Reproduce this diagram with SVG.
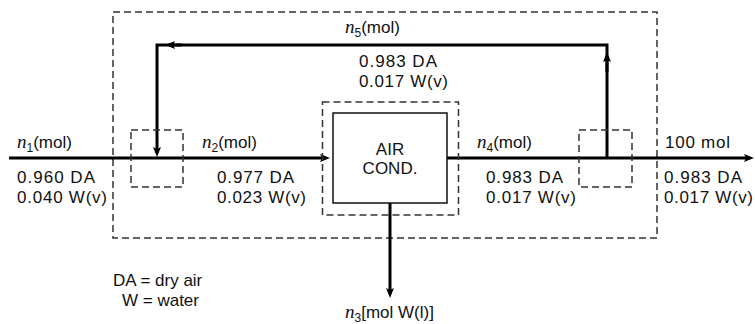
<svg xmlns="http://www.w3.org/2000/svg" width="755" height="324" viewBox="0 0 755 324">
  <defs>
    <style>
      .t { font-family: "Liberation Sans", Arial, sans-serif; font-size: 17px; fill: #111; }
      .it { font-family: "Liberation Serif", "Times New Roman", serif; font-style: italic; font-size: 19px; }
      .sub { font-size: 12px; }
      .dash { fill: none; stroke: #333; stroke-width: 1.5; stroke-dasharray: 7 4; }
      .unit { fill: #fff; stroke: #111; stroke-width: 1.5; }
      .flow { fill: none; stroke: #000; stroke-width: 3; stroke-linejoin: miter; }
      .arr { marker-end: url(#ah); }
    </style>
    <marker id="ah" markerUnits="userSpaceOnUse" viewBox="0 0 10 10" markerWidth="10" markerHeight="10" refX="6" refY="5" orient="auto">
      <path d="M0,1 L10,5 L0,9 L2,5 z" fill="#000"/>
    </marker>
  </defs>

  <g id="system-boundary">
    <rect class="dash" x="113" y="12" width="544" height="226"/>
  </g>

  <g id="connectors">
    <path class="flow arr" d="M9,158 H326"/>
    <path class="flow arr" d="M447,158 H750"/>
    <path class="flow arr" d="M607,158 V45 H157 V153"/>
    <path class="flow arr" d="M607,72 V56"/>
    <path class="flow arr" d="M182,45 H169"/>
    <path class="flow arr" d="M390,203 V294"/>
  </g>

  <g id="mixer">
    <rect class="dash" x="131" y="130" width="52" height="57"/>
  </g>

  <g id="splitter">
    <rect class="dash" x="579" y="130" width="53" height="57"/>
  </g>

  <g id="air-conditioner">
    <rect class="dash" x="322.5" y="102" width="136" height="113"/>
    <rect class="unit" x="333" y="113" width="114" height="90"/>
    <text class="t" x="390" y="155" text-anchor="middle">AIR</text>
    <text class="t" x="390" y="174" text-anchor="middle">COND.</text>
  </g>

  <g id="stream-1">
    <text class="t" x="17" y="148"><tspan class="it">n</tspan><tspan class="sub" dy="4">1</tspan><tspan dy="-4">(mol)</tspan></text>
    <text class="t" x="17" y="183" textLength="78">0.960 DA</text>
    <text class="t" x="17" y="203" textLength="90">0.040 W(v)</text>
  </g>

  <g id="stream-2">
    <text class="t" x="202" y="148"><tspan class="it">n</tspan><tspan class="sub" dy="4">2</tspan><tspan dy="-4">(mol)</tspan></text>
    <text class="t" x="217" y="183" textLength="77">0.977 DA</text>
    <text class="t" x="217" y="203" textLength="89">0.023 W(v)</text>
  </g>

  <g id="stream-5">
    <text class="t" x="345" y="33"><tspan class="it">n</tspan><tspan class="sub" dy="4">5</tspan><tspan dy="-4">(mol)</tspan></text>
    <text class="t" x="359" y="67" textLength="78">0.983 DA</text>
    <text class="t" x="359" y="87" textLength="89">0.017 W(v)</text>
  </g>

  <g id="stream-4">
    <text class="t" x="477" y="148"><tspan class="it">n</tspan><tspan class="sub" dy="4">4</tspan><tspan dy="-4">(mol)</tspan></text>
    <text class="t" x="486" y="183" textLength="77">0.983 DA</text>
    <text class="t" x="486" y="203" textLength="90">0.017 W(v)</text>
  </g>

  <g id="stream-product">
    <text class="t" x="665" y="148" textLength="65">100 mol</text>
    <text class="t" x="664" y="183" textLength="78">0.983 DA</text>
    <text class="t" x="664" y="203" textLength="89">0.017 W(v)</text>
  </g>

  <g id="stream-3">
    <text class="t" x="345" y="318"><tspan class="it">n</tspan><tspan class="sub" dy="4">3</tspan><tspan dy="-4">[mol W(l)]</tspan></text>
  </g>

  <g id="legend">
    <text class="t" x="113" y="286">DA = dry air</text>
    <text class="t" x="122" y="306">W = water</text>
  </g>
</svg>
